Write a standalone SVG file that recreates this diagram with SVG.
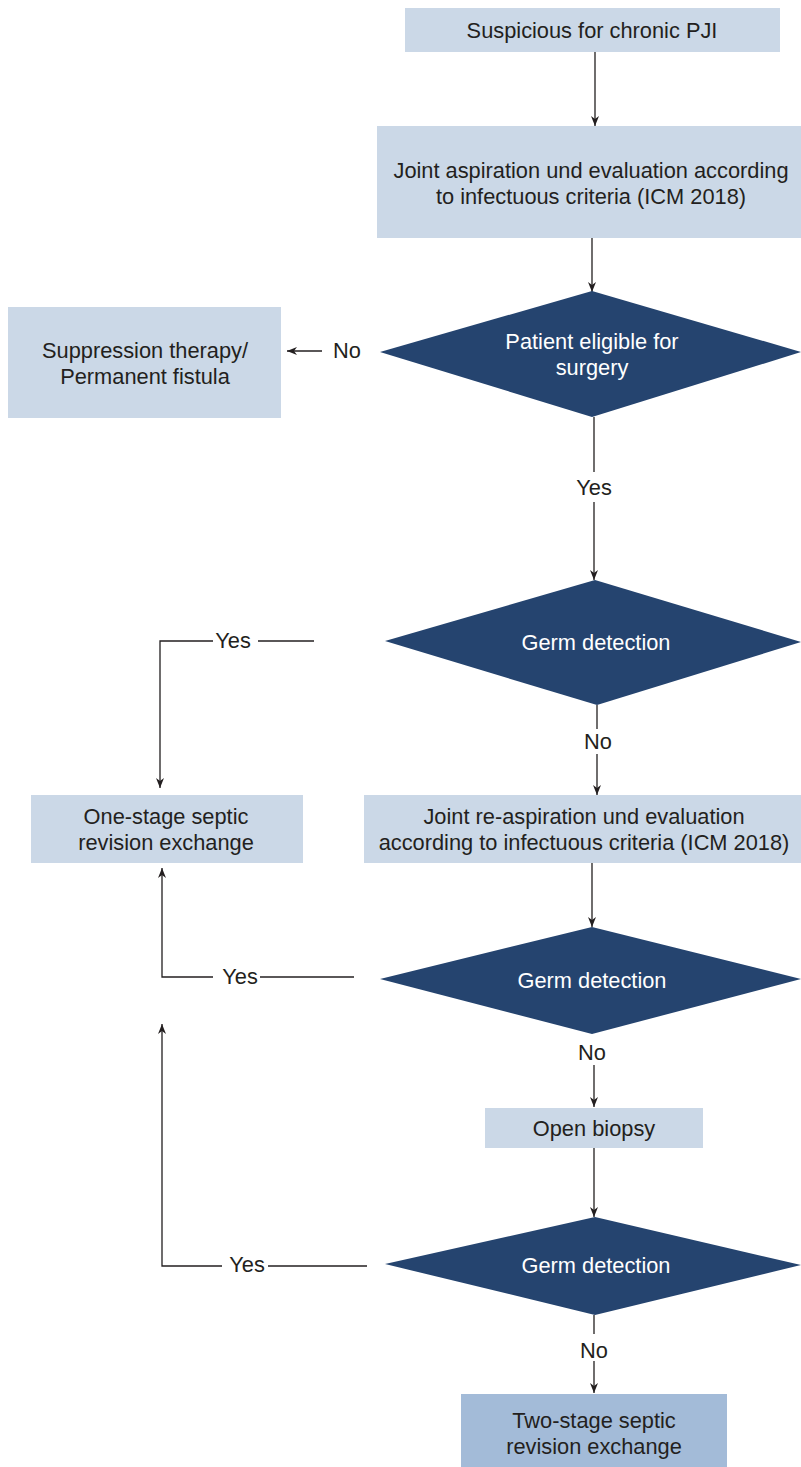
<svg xmlns="http://www.w3.org/2000/svg" width="801" height="1467" viewBox="0 0 801 1467">
  <defs>
    <marker id="arrow" viewBox="0 0 10 8" refX="10" refY="4" markerWidth="10" markerHeight="8" markerUnits="userSpaceOnUse" orient="auto">
      <path d="M0,0 L10,4 L0,8 L3,4 z" fill="#231f20"/>
    </marker>
  </defs>
  <style>
    .box { fill: #cbd8e7; }
    .box-end { fill: #a3bbd8; }
    .dia { fill: #25446f; }
    .t { font-family: "Liberation Sans", Arial, sans-serif; font-size: 21.8px; fill: #231f20; text-anchor: middle; dominant-baseline: central; }
    .tw { fill: #ffffff; }
    .ln { fill: none; stroke: #231f20; stroke-width: 1.3; }
    .arr { marker-end: url(#arrow); }
  </style>
  <rect width="801" height="1467" fill="#ffffff"/>

  <g id="connectors">
    <line class="ln arr" x1="595" y1="52" x2="595" y2="126"/>
    <line class="ln arr" x1="592" y1="238" x2="592" y2="292"/>
    <line class="ln arr" x1="322" y1="351" x2="287" y2="351"/>
    <text class="t" x="347" y="350">No</text>
    <line class="ln" x1="594" y1="417" x2="594" y2="472"/>
    <text class="t" x="594" y="487">Yes</text>
    <line class="ln arr" x1="594" y1="502" x2="594" y2="580"/>
    <polyline class="ln" points="314,641 258,641"/>
    <text class="t" x="233" y="640">Yes</text>
    <polyline class="ln arr" points="213,641 160,641 160,788"/>
    <line class="ln" x1="597" y1="705" x2="597" y2="729"/>
    <text class="t" x="598" y="741">No</text>
    <line class="ln arr" x1="597" y1="754" x2="597" y2="795"/>
    <line class="ln arr" x1="592" y1="863" x2="592" y2="927"/>
    <line class="ln" x1="354" y1="977" x2="260" y2="977"/>
    <text class="t" x="240" y="976">Yes</text>
    <polyline class="ln arr" points="213,977 162,977 162,868"/>
    <text class="t" x="592" y="1052">No</text>
    <line class="ln arr" x1="594" y1="1065" x2="594" y2="1107"/>
    <line class="ln arr" x1="594" y1="1148" x2="594" y2="1217"/>
    <line class="ln" x1="367" y1="1266" x2="268" y2="1266"/>
    <text class="t" x="247" y="1264">Yes</text>
    <polyline class="ln arr" points="222,1266 162,1266 162,1024"/>
    <line class="ln" x1="594" y1="1315" x2="594" y2="1334"/>
    <text class="t" x="594" y="1350">No</text>
    <line class="ln arr" x1="594" y1="1361" x2="594" y2="1393"/>
  </g>

  <g id="suspicious">
    <rect class="box" x="405" y="8" width="375" height="44"/>
    <text class="t" x="592" y="30">Suspicious for chronic PJI</text>
  </g>

  <g id="aspiration">
    <rect class="box" x="377" y="126" width="424" height="112"/>
    <text class="t" x="591" y="170">Joint aspiration und evaluation according</text>
    <text class="t" x="591" y="196">to infectuous criteria (ICM 2018)</text>
  </g>

  <g id="eligible">
    <polygon class="dia" points="592,291 801,352 592,417 380,352"/>
    <text class="t tw" x="592" y="341">Patient eligible for</text>
    <text class="t tw" x="592" y="367">surgery</text>
  </g>

  <g id="suppression">
    <rect class="box" x="8" y="307" width="273" height="111"/>
    <text class="t" x="145" y="350">Suppression therapy/</text>
    <text class="t" x="145" y="376">Permanent fistula</text>
  </g>

  <g id="germ1">
    <polygon class="dia" points="595,580 801,642 597,705 385,641"/>
    <text class="t tw" x="596" y="642">Germ detection</text>
  </g>

  <g id="one-stage">
    <rect class="box" x="31" y="795" width="272" height="68"/>
    <text class="t" x="166" y="816">One-stage septic</text>
    <text class="t" x="166" y="842">revision exchange</text>
  </g>

  <g id="reaspiration">
    <rect class="box" x="364" y="795" width="437" height="68"/>
    <text class="t" x="584" y="816">Joint re-aspiration und evaluation</text>
    <text class="t" x="584" y="842">according to infectuous criteria (ICM 2018)</text>
  </g>

  <g id="germ2">
    <polygon class="dia" points="592,927 801,979 592,1034 380,979"/>
    <text class="t tw" x="592" y="980">Germ detection</text>
  </g>

  <g id="biopsy">
    <rect class="box" x="485" y="1108" width="218" height="40"/>
    <text class="t" x="594" y="1128">Open biopsy</text>
  </g>

  <g id="germ3">
    <polygon class="dia" points="595,1217 801,1265 595,1315 385,1264"/>
    <text class="t tw" x="596" y="1265">Germ detection</text>
  </g>

  <g id="two-stage">
    <rect class="box-end" x="461" y="1394" width="266" height="73"/>
    <text class="t" x="594" y="1420">Two-stage septic</text>
    <text class="t" x="594" y="1446">revision exchange</text>
  </g>
</svg>
